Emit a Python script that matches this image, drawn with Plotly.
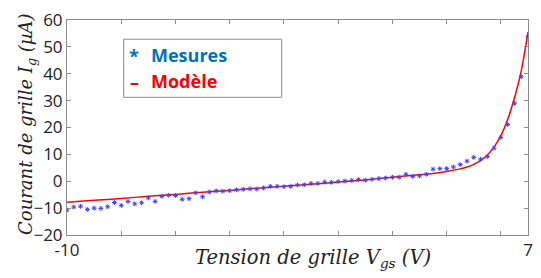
import plotly.graph_objects as go

# Measured gate current (µA) at Vgs from -10 V to 7 V, step 0.25 V
vgs_meas = [-10 + 0.25 * i for i in range(69)]
ig_meas = [-10.7, -9.6, -9.3, -10.5, -10.0, -10.1, -9.5, -7.9, -9.0, -7.5,
           -8.4, -8.0, -6.2, -7.5, -5.6, -5.2, -5.3, -6.7, -6.5, -4.3,
           -5.8, -4.0, -3.6, -3.7, -3.5, -3.2, -3.0, -2.8, -2.9, -2.5,
           -1.9, -1.9, -2.0, -1.9, -1.4, -1.3, -0.8, -0.8, -0.3, -0.4,
           -0.1, 0.1, 0.3, 0.6, 0.4, 0.7, 1.0, 1.2, 1.5, 1.5,
           2.6, 1.8, 2.0, 2.6, 4.5, 4.7, 4.7, 5.3, 6.2, 7.5,
           8.9, 8.2, 9.2, 12.3, 16.3, 21.1, 29.0, 38.9, 53.8]

# Model curve
vgs_model = [-10, -9, -8, -7, -6, -5, -4, -3, -2, -1, 0, 1, 2, 3, 3.5, 4, 4.5,
             4.75, 5, 5.25, 5.5, 5.75, 6, 6.25, 6.5, 6.75, 7]
ig_model = [-7.8, -7.1, -6.4, -5.6, -4.9, -4.1, -3.4, -2.6, -1.9, -1.1, -0.3,
            0.5, 1.5, 2.4, 2.9, 3.6, 4.6, 5.3, 6.3, 7.7, 9.8, 12.8, 17.0, 23.0,
            31.0, 41.0, 55.5]

x_tickvals = [-10, 7]
x_ticktext = ["-10", "7"]
x_minor_ticks = [-8, -6, -4, -2, 0, 2, 4, 6]
y_tickvals = [-20, -10, 0, 10, 20, 30, 40, 50, 60]

fig = go.Figure()
fig.add_trace(go.Scatter(
    x=vgs_model, y=ig_model, mode="lines", name="Modèle",
    line=dict(color="#ff0000", width=1.5, shape="spline", smoothing=0.8),
    showlegend=False))
fig.add_trace(go.Scatter(
    x=vgs_meas, y=ig_meas, mode="markers", name="Mesures",
    marker=dict(symbol="asterisk-open", size=4, color="#4040ff",
                line=dict(color="#4040ff", width=1)),
    showlegend=False))

axis_common = dict(showgrid=False, zeroline=False, showline=True,
                   linecolor="#8c8c8c", linewidth=1, mirror="allticks",
                   ticks="inside", ticklen=4, tickcolor="#8c8c8c",
                   tickfont=dict(family="Open Sans", size=17, color="#222222"))

fig.update_xaxes(range=[-10, 7], tickvals=x_tickvals, ticktext=x_ticktext,
                 minor=dict(tickvals=x_minor_ticks, ticks="inside", ticklen=4,
                            tickcolor="#8c8c8c", showgrid=False),
                 **axis_common)
fig.update_yaxes(range=[-20, 60], tickvals=y_tickvals, **axis_common)


def px_x(p):
    return (p - 67) / 466


def px_y(p):
    return (235 - p) / 216


legend_font = dict(family="Open Sans", size=18)
fig.update_layout(
    width=541, height=278,
    margin=dict(l=67, r=8, t=19, b=43),
    paper_bgcolor="white", plot_bgcolor="white",
    shapes=[dict(type="rect", xref="paper", yref="paper",
                 x0=px_x(124.3), x1=px_x(284),
                 y0=px_y(96.7), y1=px_y(38.3),
                 line=dict(color="#8c8c8c", width=1), fillcolor="white")],
    annotations=[
        dict(text="<b>*</b>", x=px_x(135), y=px_y(55),
             xref="paper", yref="paper", showarrow=False,
             xanchor="center", yanchor="middle",
             font=dict(legend_font, color="#0070C0")),
        dict(text="<b>Mesures</b>", x=px_x(150), y=px_y(54),
             xref="paper", yref="paper", showarrow=False,
             xanchor="left", yanchor="middle",
             font=dict(legend_font, color="#0070C0")),
        dict(text="<b>–</b>", x=px_x(135), y=px_y(81),
             xref="paper", yref="paper", showarrow=False,
             xanchor="center", yanchor="middle",
             font=dict(legend_font, color="#ff0000")),
        dict(text="<b>Modèle</b>", x=px_x(150), y=px_y(80),
             xref="paper", yref="paper", showarrow=False,
             xanchor="left", yanchor="middle",
             font=dict(legend_font, color="#ff0000")),
        dict(text="Tension de grille V<sub>gs</sub> (V)",
             x=px_x(316), y=px_y(259),
             xref="paper", yref="paper", showarrow=False,
             xanchor="center", yanchor="middle",
             font=dict(family="DejaVu Serif", size=19.5, color="#222222",
                       style="italic")),
        dict(text="Courant de grille I<sub>g</sub> (µA)",
             x=px_x(26), y=px_y(124), textangle=-90,
             xref="paper", yref="paper", showarrow=False,
             xanchor="center", yanchor="middle",
             font=dict(family="DejaVu Serif", size=18, color="#222222",
                       style="italic")),
    ],
)

fig.write_html("out.html", config={"displayModeBar": False},
               post_script="document.body.style.margin='0';")
